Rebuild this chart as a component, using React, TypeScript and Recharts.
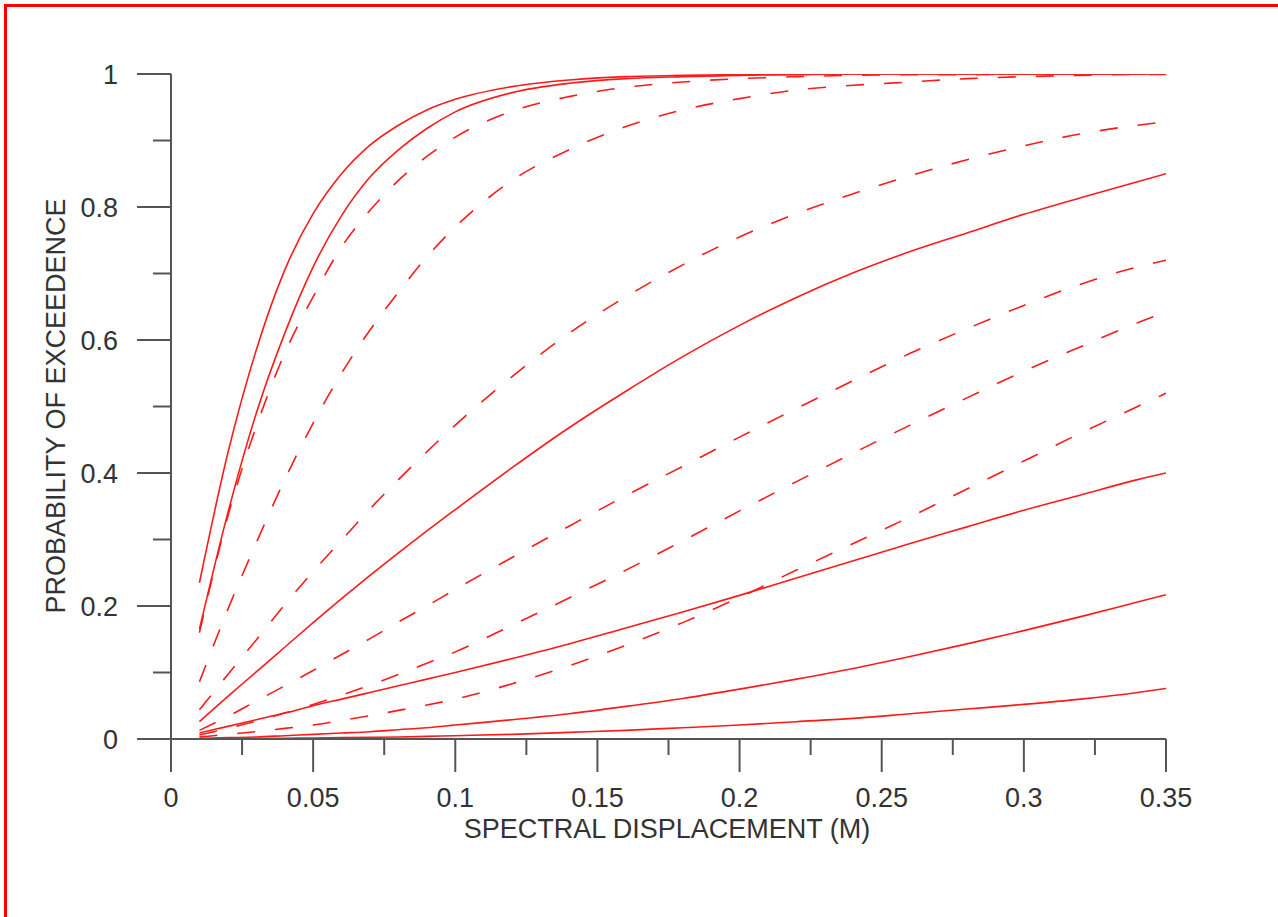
import React from 'react';
import { LineChart, Line, XAxis, YAxis } from 'recharts';

// Spectral displacement sample points (m)
const xs = [0.01, 0.02, 0.03, 0.04, 0.05, 0.06, 0.07, 0.08, 0.09, 0.1, 0.12, 0.14, 0.16, 0.18, 0.2, 0.22, 0.24, 0.26, 0.28, 0.3, 0.32, 0.34, 0.35];

// Solid curves
const s1 = [0.235, 0.43, 0.585, 0.705, 0.79, 0.85, 0.893, 0.923, 0.946, 0.962, 0.981, 0.991, 0.996, 0.998, 0.999, 1, 1, 1, 1, 1, 1, 1, 1];
const s2 = [0.165, 0.34, 0.49, 0.61, 0.71, 0.787, 0.845, 0.886, 0.918, 0.943, 0.972, 0.986, 0.993, 0.996, 0.998, 0.999, 1, 1, 1, 1, 1, 1, 1];
const s3 = [0.026, 0.064, 0.101, 0.138, 0.175, 0.211, 0.246, 0.28, 0.313, 0.345, 0.408, 0.468, 0.523, 0.575, 0.622, 0.664, 0.701, 0.733, 0.761, 0.789, 0.814, 0.838, 0.85];
const s4 = [0.009, 0.019, 0.029, 0.039, 0.05, 0.06, 0.07, 0.08, 0.09, 0.1, 0.121, 0.143, 0.167, 0.191, 0.216, 0.242, 0.268, 0.294, 0.319, 0.344, 0.367, 0.39, 0.4];
const s5 = [0.001, 0.002, 0.003, 0.005, 0.007, 0.009, 0.011, 0.014, 0.017, 0.021, 0.029, 0.038, 0.049, 0.061, 0.075, 0.09, 0.106, 0.124, 0.143, 0.163, 0.184, 0.206, 0.217];
const s6 = [0.0002, 0.0004, 0.0007, 0.001, 0.0015, 0.002, 0.0025, 0.003, 0.004, 0.005, 0.007, 0.01, 0.013, 0.017, 0.021, 0.026, 0.031, 0.038, 0.045, 0.052, 0.06, 0.07, 0.076];

// Dashed curves
const d1 = [0.16, 0.335, 0.47, 0.58, 0.665, 0.74, 0.795, 0.84, 0.876, 0.905, 0.944, 0.966, 0.98, 0.988, 0.993, 0.996, 0.998, 0.999, 0.999, 1, 1, 1, 1];
const d2 = [0.086, 0.195, 0.295, 0.39, 0.475, 0.55, 0.615, 0.672, 0.725, 0.77, 0.84, 0.886, 0.921, 0.946, 0.963, 0.976, 0.983, 0.988, 0.993, 0.996, 0.998, 0.9995, 0.9995];
const d3 = [0.044, 0.097, 0.149, 0.202, 0.252, 0.299, 0.346, 0.39, 0.432, 0.472, 0.545, 0.61, 0.665, 0.713, 0.755, 0.79, 0.82, 0.847, 0.871, 0.892, 0.91, 0.923, 0.928];
const d4 = [0.013, 0.034, 0.057, 0.08, 0.103, 0.127, 0.151, 0.176, 0.2, 0.225, 0.273, 0.32, 0.366, 0.41, 0.454, 0.497, 0.539, 0.58, 0.617, 0.652, 0.684, 0.71, 0.72];
const d5 = [0.006, 0.016, 0.027, 0.039, 0.052, 0.066, 0.081, 0.097, 0.114, 0.131, 0.171, 0.212, 0.254, 0.298, 0.343, 0.387, 0.43, 0.472, 0.513, 0.553, 0.59, 0.626, 0.642];
const d6 = [0.003, 0.007, 0.011, 0.016, 0.021, 0.028, 0.035, 0.043, 0.051, 0.06, 0.083, 0.11, 0.141, 0.175, 0.213, 0.254, 0.294, 0.334, 0.376, 0.418, 0.46, 0.5, 0.52];

const xTicks = [0, 0.025, 0.05, 0.075, 0.1, 0.125, 0.15, 0.175, 0.2, 0.225, 0.25, 0.275, 0.3, 0.325, 0.35];
const yTicks = [0, 0.1, 0.2, 0.3, 0.4, 0.5, 0.6, 0.7, 0.8, 0.9, 1];

const xTitle = 'SPECTRAL DISPLACEMENT (M)';
const yTitle = 'PROBABILITY OF EXCEEDENCE';

const series = [
  { key: 's1', values: s1, dashed: false },
  { key: 's2', values: s2, dashed: false },
  { key: 's3', values: s3, dashed: false },
  { key: 's4', values: s4, dashed: false },
  { key: 's5', values: s5, dashed: false },
  { key: 's6', values: s6, dashed: false },
  { key: 'd1', values: d1, dashed: true },
  { key: 'd2', values: d2, dashed: true },
  { key: 'd3', values: d3, dashed: true },
  { key: 'd4', values: d4, dashed: true },
  { key: 'd5', values: d5, dashed: true },
  { key: 'd6', values: d6, dashed: true },
];

const data = xs.map((x, i) => {
  const row: Record<string, number> = { x };
  series.forEach((s) => {
    row[s.key] = s.values[i];
  });
  return row;
});

const FONT = '"Liberation Sans", Arial, Helvetica, sans-serif';
const AXIS = '#555555';
const TEXT = '#333333';
const RED = '#ff1a1a';

const fmt = (v: number) => String(Number(v.toFixed(3)));

const XTick = (props: any) => {
  const { x, y, payload } = props;
  const v = payload.value as number;
  const major = Math.round(v * 1000) % 50 === 0;
  return (
    <g>
      <line x1={x} x2={x} y1={y} y2={y + (major ? 33 : 16)} stroke={AXIS} strokeWidth={2} />
      {major && (
        <text x={x} y={y + 68} textAnchor="middle" fontSize={27} fill={TEXT} fontFamily={FONT}>
          {fmt(v)}
        </text>
      )}
    </g>
  );
};

const YTick = (props: any) => {
  const { x, y, payload } = props;
  const v = payload.value as number;
  const major = Math.round(v * 10) % 2 === 0;
  return (
    <g>
      <line x1={x - (major ? 34 : 18)} x2={x} y1={y} y2={y} stroke={AXIS} strokeWidth={2} />
      {major && (
        <text x={x - 53} y={y} dy="0.36em" textAnchor="end" fontSize={27} fill={TEXT} fontFamily={FONT}>
          {fmt(v)}
        </text>
      )}
    </g>
  );
};

export default function App() {
  return (
    <div style={{ position: 'absolute', left: 0, top: 0, width: 1278, height: 917, background: '#ffffff', overflow: 'hidden' }}>
      <LineChart
        width={1278}
        height={917}
        data={data}
        margin={{ top: 74, right: 112, left: 111, bottom: 118 }}
      >
        <XAxis
          dataKey="x"
          type="number"
          domain={[0, 0.35]}
          ticks={xTicks}
          interval={0}
          height={60}
          tickSize={0}
          tickMargin={0}
          tickLine={false}
          axisLine={{ stroke: AXIS, strokeWidth: 2 }}
          tick={<XTick />}
          allowDataOverflow
        />
        <YAxis
          type="number"
          domain={[0, 1]}
          ticks={yTicks}
          interval={0}
          width={60}
          tickSize={0}
          tickMargin={0}
          tickLine={false}
          axisLine={{ stroke: AXIS, strokeWidth: 2 }}
          tick={<YTick />}
          allowDataOverflow
        />
        {series.map((s) => (
          <Line
            key={s.key}
            dataKey={s.key}
            type="monotone"
            stroke={RED}
            strokeWidth={1.6}
            strokeDasharray={s.dashed ? '18 20' : undefined}
            dot={false}
            activeDot={false}
            isAnimationActive={false}
          />
        ))}
      </LineChart>
      <svg width={1278} height={917} style={{ position: 'absolute', left: 0, top: 0, pointerEvents: 'none' }}>
        <text x={667} y={838} textAnchor="middle" fontSize={27} fill={TEXT} fontFamily={FONT}>
          {xTitle}
        </text>
        <text
          x={0}
          y={0}
          transform="translate(65 406) rotate(-90)"
          textAnchor="middle"
          fontSize={27}
          fill={TEXT}
          fontFamily={FONT}
        >
          {yTitle}
        </text>
      </svg>
      <div
        style={{
          position: 'absolute',
          left: 4,
          top: 4,
          width: 1300,
          height: 1000,
          borderTop: '3px solid #ff0000',
          borderLeft: '3px solid #ff0000',
          boxSizing: 'border-box',
          pointerEvents: 'none',
        }}
      />
    </div>
  );
}
